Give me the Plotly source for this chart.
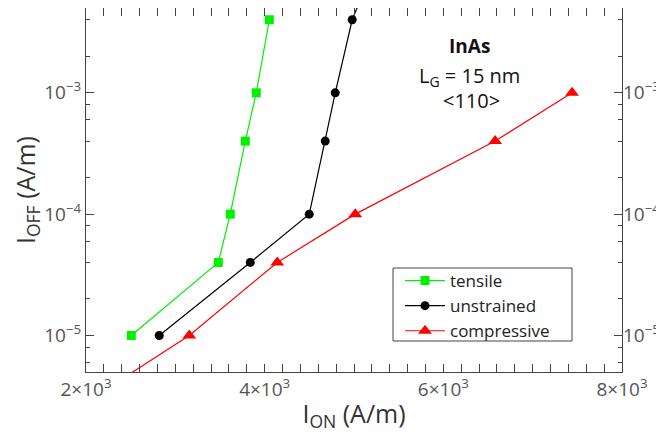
import plotly.graph_objects as go

# Data
ioff_levels = [1e-5, 4e-5, 1e-4, 4e-4, 1e-3, 4e-3]

tensile_ion = [2507, 3481, 3615, 3783, 3906, 4052]
tensile_ioff = ioff_levels

unstrained_ion = [2820, 3839, 4499, 4678, 4790, 4980, 5200]
unstrained_ioff = ioff_levels + [1e-2]

compressive_ion = [2320, 3156, 4141, 5014, 6580, 7441]
compressive_ioff = [4e-6, 1e-5, 4e-5, 1e-4, 4e-4, 1e-3]

x_tickvals = [2000, 3000, 4000, 5000, 6000, 7000, 8000]
x_ticktext = ["2×10<sup>3</sup>", "", "4×10<sup>3</sup>", "", "6×10<sup>3</sup>", "", "8×10<sup>3</sup>"]
y_tickvals = [1e-5, 1e-4, 1e-3]
y_ticktext = ["10<sup>−5</sup>", "10<sup>−4</sup>", "10<sup>−3</sup>"]
y_minor = [m * 10.0 ** e for e in (-6, -5, -4, -3) for m in (2, 4, 6, 8)]
x_minor = list(range(2000, 8001, 200))

FONT = "Open Sans"
fig = go.Figure()

fig.add_trace(go.Scatter(
    x=tensile_ion, y=tensile_ioff, name="tensile", mode="lines+markers",
    line=dict(color="#00f000", width=1.2),
    marker=dict(symbol="square", size=9, color="#00f000")))
fig.add_trace(go.Scatter(
    x=unstrained_ion, y=unstrained_ioff, name="unstrained", mode="lines+markers",
    line=dict(color="black", width=1.2),
    marker=dict(symbol="circle", size=9, color="black")))
fig.add_trace(go.Scatter(
    x=compressive_ion, y=compressive_ioff, name="compressive", mode="lines+markers",
    line=dict(color="#ff0000", width=1.2),
    marker=dict(symbol="triangle-up", size=12, color="#ff0000")))
# dummy trace for right-hand axis
fig.add_trace(go.Scatter(x=[None], y=[None], yaxis="y2", showlegend=False, hoverinfo="skip"))

yrange = [-5.30103, -2.30103]
TICKFONT = dict(family=FONT, size=19, color="#555")

axis_common = dict(
    showgrid=False, zeroline=False, ticks="inside", ticklen=8, tickwidth=1,
    tickcolor="#444", showline=True, linecolor="#444", linewidth=1.2,
    tickfont=TICKFONT,
)

# Screen-pixel helper (plot area spans x 86..622, y 8..372 px)
def px_to_paper(px, py):
    return (px - 86) / (622 - 86), (372 - py) / (372 - 8)

lx0, ly0 = px_to_paper(393, 341)
lx1, ly1 = px_to_paper(572, 268)
leg_x, leg_y = px_to_paper(400, 263)

# The page body adds an 8px offset; the figure is sized to compensate.
fig.update_layout(
    width=656, height=431,
    margin=dict(l=78, r=42, t=0, b=67),
    paper_bgcolor="white", plot_bgcolor="white",
    font=dict(family=FONT),
    xaxis=dict(
        **axis_common, range=[2000, 8000], mirror="allticks",
        tickmode="array", tickvals=x_tickvals, ticktext=x_ticktext,
        minor=dict(ticks="inside", ticklen=4, tickcolor="#444", tickmode="array", tickvals=x_minor),
        title=dict(text="I<sub>ON</sub> (A/m)", font=dict(family=FONT, size=25, color="#333"), standoff=4),
    ),
    yaxis=dict(
        **axis_common, type="log", range=yrange, mirror="allticks",
        tickmode="array", tickvals=y_tickvals, ticktext=y_ticktext,
        minor=dict(ticks="inside", ticklen=4, tickcolor="#444", tickmode="array", tickvals=y_minor),
        title=dict(text="I<sub>OFF</sub> (A/m)", font=dict(family=FONT, size=25, color="#333"), standoff=4),
    ),
    yaxis2=dict(
        overlaying="y", side="right", type="log", range=yrange,
        showgrid=False, zeroline=False, showline=False, ticks="",
        tickmode="array", tickvals=y_tickvals, ticktext=y_ticktext,
        tickfont=TICKFONT, ticklabelstandoff=0,
    ),
    legend=dict(
        x=leg_x, y=leg_y, xanchor="left", yanchor="top",
        borderwidth=0, bgcolor="rgba(0,0,0,0)",
        font=dict(family=FONT, size=17, color="#222"),
        tracegroupgap=0, itemwidth=40,
    ),
    showlegend=True,
    shapes=[dict(type="rect", xref="paper", yref="paper", x0=lx0, y0=ly0, x1=lx1, y1=ly1,
                 line=dict(color="#444", width=1), fillcolor="white", layer="above")],
)

ann_texts = ["<b>InAs</b>", "L<sub>G</sub> = 15 nm", "&lt;110&gt;"]
ann_pos = [(469, 46), (469, 76), (471, 100)]
ann_sizes = [19, 20, 20]
for t, (px, py), s in zip(ann_texts, ann_pos, ann_sizes):
    ax, ay = px_to_paper(px, py)
    fig.add_annotation(text=t, x=ax, y=ay, xref="paper", yref="paper", showarrow=False,
                       xanchor="center", yanchor="middle",
                       font=dict(family=FONT, size=s, color="#111"))

fig.write_html("out.html")
